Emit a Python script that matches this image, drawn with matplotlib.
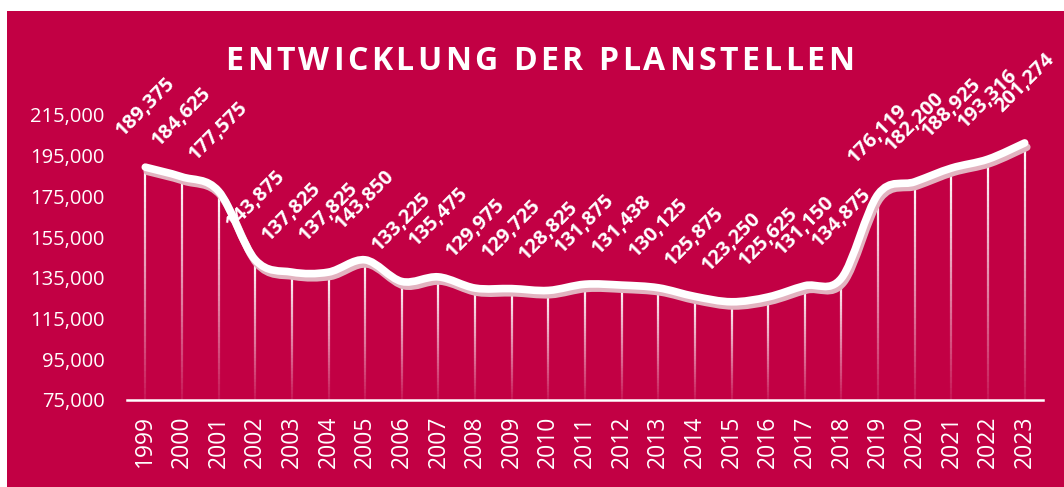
import numpy as np
import matplotlib
matplotlib.use('Agg')
import matplotlib.pyplot as plt
from matplotlib.path import Path
from matplotlib.patches import PathPatch, Rectangle
from matplotlib.collections import LineCollection
import matplotlib.patheffects as pe

plt.rcParams['font.family'] = ['Open Sans', 'DejaVu Sans']

years = [1999, 2000, 2001, 2002, 2003, 2004, 2005, 2006, 2007, 2008, 2009, 2010, 2011,
         2012, 2013, 2014, 2015, 2016, 2017, 2018, 2019, 2020, 2021, 2022, 2023]
stellen = [189375, 184625, 177575, 143875, 137825, 137825, 143850, 133225, 135475, 129975,
           129725, 128825, 131875, 131438, 130125, 125875, 123250, 125625, 131150, 134875,
           176119, 182200, 188925, 193316, 201274]
yticks = [75000, 95000, 115000, 135000, 155000, 175000, 195000, 215000]

rot = '#C20044'
W, H = 1064, 487

fig = plt.figure(figsize=(W/100, H/100), dpi=100, facecolor='white')
fig.patches.append(Rectangle((7/W, 0), 1, 1-11/H, transform=fig.transFigure,
                             facecolor=rot, edgecolor='none', zorder=-5))

ax = fig.add_axes([127/W, 1-400/H, (1043-127)/W, (400-115)/H])
ax.set_facecolor('none')
n = len(years)
x = np.arange(n)
ax.set_xlim(-0.5, n-0.5)
ax.set_ylim(75000, 215000)
ax.set_yticks(yticks)
ax.set_yticklabels([f'{t:,}' for t in yticks], color='white', fontsize=14.5)
ax.set_xticks(x)
ax.set_xticklabels([str(y) for y in years], rotation=90, color='white',
                   fontsize=16.5, va='top')
ax.tick_params(length=0)
ax.tick_params(axis='y', pad=16)
ax.tick_params(axis='x', pad=11)
for s in ['top', 'right', 'left']:
    ax.spines[s].set_visible(False)
ax.spines['bottom'].set_color('white')
ax.spines['bottom'].set_linewidth(1.8)

# Fallinien mit Verlauf
segs = []
cols = []
for i in range(n):
    ys = np.linspace(stellen[i], 75000, 41)
    for k in range(40):
        segs.append([(i, ys[k]), (i, ys[k+1])])
        cols.append((1, 1, 1, 1 - 0.9*k/39))
ax.add_collection(LineCollection(segs, colors=cols, linewidths=1.6, zorder=2))

# geglaettete Linie (Bezier wie in Excel)
pts = np.column_stack([x, stellen]).astype(float)
verts = [pts[0]]
codes = [Path.MOVETO]
for i in range(n-1):
    p0 = pts[max(i-1, 0)]
    p1 = pts[i]
    p2 = pts[i+1]
    p3 = pts[min(i+2, n-1)]
    verts += [p1 + (p2-p0)/6, p2 - (p3-p1)/6, p2]
    codes += [Path.CURVE4]*3
patch = PathPatch(Path(verts, codes), fill=False, edgecolor='white', linewidth=5.5,
                  capstyle='round', joinstyle='round', zorder=4)
patch.set_path_effects([pe.SimpleLineShadow(offset=(1.5, -3), shadow_color='#E2B3C0', alpha=1),
                        pe.Normal()])
ax.add_patch(patch)

for i, v in enumerate(stellen):
    ax.annotate(f'{v:,}', (i, v), xytext=(0, 19), textcoords='offset points', rotation=45,
                ha='center', va='bottom', color='white', fontweight='bold', fontsize=14.5,
                zorder=5, annotation_clip=False)

# Titel mit Sperrung
title = 'ENTWICKLUNG DER PLANSTELLEN'
fs = 23
gap = 3.5
renderer = fig.canvas.get_renderer()
def breite(s):
    t = fig.text(0, 0, s, fontsize=fs, fontweight='bold')
    w = t.get_window_extent(renderer).width
    t.remove()
    return w
space = breite('E E') - breite('EE')
widths = [space if c == ' ' else breite(c) for c in title]
total = sum(widths) + gap*(len(title)-1)
xpos = 539.5 - total/2
for c, w in zip(title, widths):
    if c != ' ':
        fig.text(xpos/W, 1-70/H, c, fontsize=fs, fontweight='bold', color='white',
                 ha='left', va='baseline')
    xpos += w + gap

fig.savefig('out.png', dpi=100, facecolor='white')
